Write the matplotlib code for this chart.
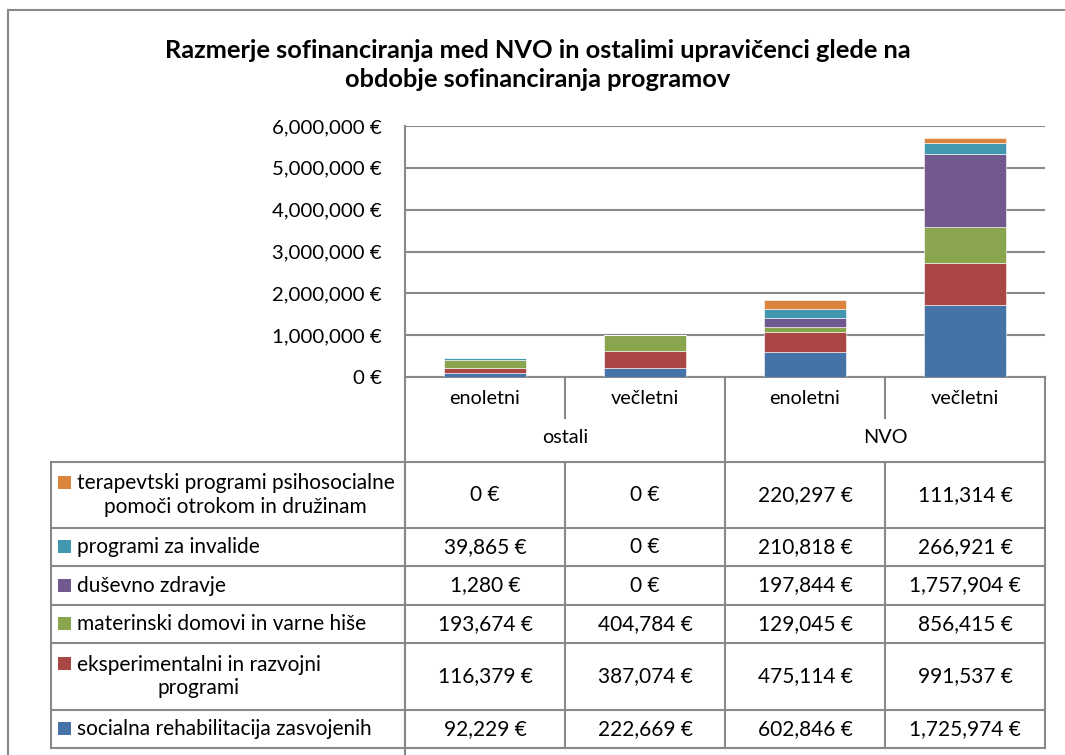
import numpy as np
import matplotlib.pyplot as plt
from matplotlib.lines import Line2D
from matplotlib.patches import Rectangle

plt.rcParams['font.family'] = ['Lato', 'DejaVu Sans']

# Data
title = 'Razmerje sofinanciranja med NVO in ostalimi upravičenci glede na\nobdobje sofinanciranja programov'
groups = ['ostali', 'NVO']
periods = ['enoletni', 'večletni', 'enoletni', 'večletni']

# series in stacking order (bottom -> top)
series_names = [
    'socialna rehabilitacija zasvojenih',
    'eksperimentalni in razvojni\nprogrami',
    'materinski domovi in varne hiše',
    'duševno zdravje',
    'programi za invalide',
    'terapevtski programi psihosocialne\npomoči otrokom in družinam',
]
socialna = [92229, 222669, 602846, 1725974]
eksperimentalni = [116379, 387074, 475114, 991537]
materinski = [193674, 404784, 129045, 856415]
dusevno = [1280, 0, 197844, 1757904]
invalidi = [39865, 0, 210818, 266921]
terapevtski = [0, 0, 220297, 111314]
series_values = [socialna, eksperimentalni, materinski, dusevno, invalidi, terapevtski]
colors = ['#4572A7', '#AA4643', '#89A54E', '#71588F', '#4198AF', '#DB843D']

y_ticks = [0, 1000000, 2000000, 3000000, 4000000, 5000000, 6000000]

# Figure in pixel units
W, H = 1065, 755
fig = plt.figure(figsize=(W / 100, H / 100), dpi=100)
GRID = '#898989'


def fx(x):
    return x / W


def fy(y):
    return 1 - y / H


def hline(y, x0, x1, lw=1.5):
    fig.add_artist(Line2D([fx(x0), fx(x1)], [fy(y), fy(y)], transform=fig.transFigure,
                          color=GRID, lw=lw))


def vline(x, y0, y1, lw=1.5):
    fig.add_artist(Line2D([fx(x), fx(x)], [fy(y0), fy(y1)], transform=fig.transFigure,
                          color=GRID, lw=lw))


# outer frame (partially visible)
hline(10, 8, W)
vline(8, 10, H)

# plot area
L, R, T, B = 405, 1045, 126, 377
ax = fig.add_axes([fx(L), fy(B), (R - L) / W, (B - T) / H])
x = np.arange(len(periods))
bottom = np.zeros(len(periods))
for vals, c in zip(series_values, colors):
    ax.bar(x, vals, width=0.51, bottom=bottom, color=c, edgecolor='white', linewidth=0.4, zorder=3)
    bottom += np.array(vals)

ax.set_xlim(-0.5, len(periods) - 0.5)
ax.set_ylim(0, 6000000)
ax.set_yticks(y_ticks)
ax.set_yticklabels([f'{v:,} €' for v in y_ticks], fontsize=14.7)
ax.tick_params(axis='y', length=0, pad=16.5)
ax.set_xticks([])
ax.grid(axis='y', color=GRID, lw=1.5, zorder=0)
for s in ['top', 'right']:
    ax.spines[s].set_visible(False)
for s in ['left', 'bottom']:
    ax.spines[s].set_color(GRID)
    ax.spines[s].set_linewidth(1.5)

fig.text(fx(538), fy(65), title, ha='center', va='center', fontsize=18.3, fontweight='bold',
         linespacing=1.35)

# category table under axis
cols = [405, 565, 725, 885, 1045]
vline(405, B, H)
vline(1045, B, 462)
vline(565, B, 418)
vline(885, B, 418)
vline(725, B, 462)
for i, p in enumerate(periods):
    fig.text(fx((cols[i] + cols[i + 1]) / 2), fy(398), p, ha='center', va='center', fontsize=14.3)
for g, gi in enumerate(groups):
    fig.text(fx((cols[2 * g] + cols[2 * g + 2]) / 2), fy(437), gi,
             ha='center', va='center', fontsize=14.3)

# data table
rows_y = [462, 528, 566, 605, 643, 710, 748]
tab_cols = [51] + cols
for y in rows_y:
    hline(y, 51, 1045)
for xc in tab_cols:
    vline(xc, 462, 748)

order = list(range(len(series_names)))[::-1]
for r, si in enumerate(order):
    y0, y1 = rows_y[r], rows_y[r + 1]
    ym = (y0 + y1) / 2
    name = series_names[si]
    two = '\n' in name
    ytop = y0 + 21 if two else ym
    fig.add_artist(Rectangle((fx(58), fy(ytop + 6)), 13 / W, 13 / H, transform=fig.transFigure,
                             facecolor=colors[si], edgecolor='none'))
    fig.text(fx(77), fy(ym), name, ha='left', va='center', fontsize=15,
             multialignment='center', linespacing=1.2)
    for c, v in enumerate(series_values[si]):
        fig.text(fx((tab_cols[c + 1] + tab_cols[c + 2]) / 2), fy(ym), f'{v:,} €',
                 ha='center', va='center', fontsize=15)

fig.savefig('out.png', dpi=100)
